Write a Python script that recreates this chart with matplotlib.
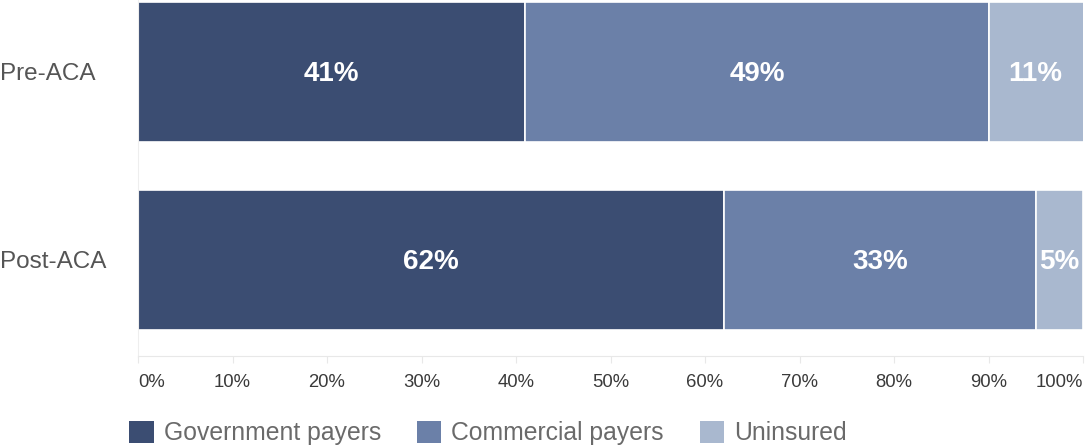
import matplotlib.pyplot as plt
from matplotlib.patches import Patch

plt.rcParams['font.family'] = ['Liberation Sans', 'DejaVu Sans']

periods = ["Pre-ACA", "Post-ACA"]
payers = ["Government payers", "Commercial payers", "Uninsured"]
government = [41, 62]
commercial = [49, 33]
uninsured = [11, 5]
colors = ['#3b4d72', '#6b80a8', '#a9b8cf']

fig = plt.figure(figsize=(10.85, 4.48), dpi=100)
ax = fig.add_axes([138/1085, 1 - 356/448, 945/1085, 356/448])

ypos = [0, 1]
left = [0, 0]
for series, col in zip([government, commercial, uninsured], colors):
    ax.barh(ypos, series, left=left, height=0.745, color=col,
            edgecolor='white', linewidth=1.2)
    for y, l, v in zip(ypos, left, series):
        right = min(l + v, 100)
        ax.text((l + right) / 2, y + 0.01, f"{v}%", ha='center', va='center',
                color='white', fontsize=20, fontweight='bold')
    left = [l + v for l, v in zip(left, series)]

ax.set_xlim(0, 100)
ax.set_ylim(1.51, -0.383)
ax.set_yticks([])
ax.set_xticks(range(0, 101, 10))
ax.set_xticklabels([f"{t}%" for t in range(0, 101, 10)], fontsize=13.3, color='#3a3a3a')
ticklabels = ax.get_xticklabels()
ticklabels[0].set_ha('left')
ticklabels[-1].set_ha('right')
ax.tick_params(axis='x', length=5, color='#e8e8e8', pad=8)
for s in ['top', 'right']:
    ax.spines[s].set_visible(False)
ax.spines['bottom'].set_color('#e8e8e8')
ax.spines['left'].set_color('#eeeeee')

for y, name in zip(ypos, periods):
    yfig = ax.transData.transform((0, y))[1] / fig.bbox.height
    fig.text(0.0, yfig - 2/448, name, ha='left', va='center', fontsize=17.5, color='#555555')

handles = [Patch(facecolor=c, edgecolor='none') for c in colors]
fig.legend(handles, payers, loc='center left', bbox_to_anchor=(129/1085, 1 - 433/448),
           ncol=3, frameon=False, fontsize=17.8, labelcolor='#6a6a6a',
           handlelength=1.0, handleheight=1.0, handletextpad=0.4,
           columnspacing=1.45, borderpad=0, borderaxespad=0)

fig.savefig('out.png', dpi=100)
